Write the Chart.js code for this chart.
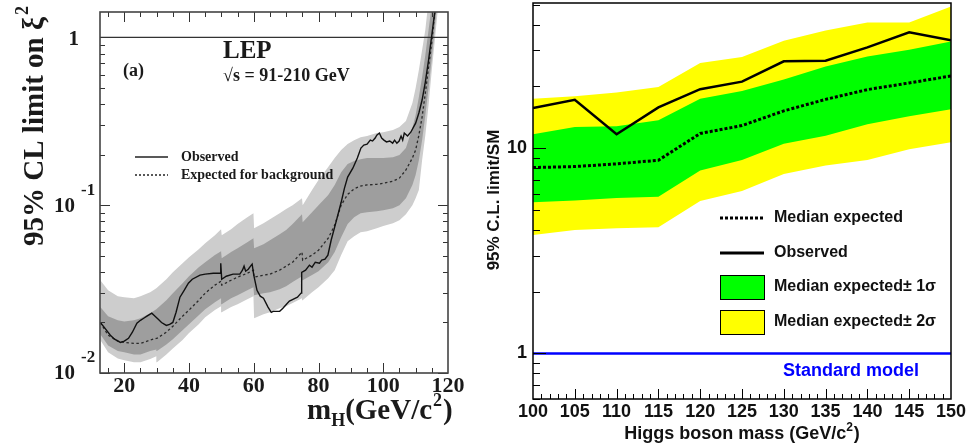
<!DOCTYPE html>
<html>
<head>
<meta charset="utf-8">
<script src="https://cdn.jsdelivr.net/npm/chart.js@4.4.1/dist/chart.umd.min.js"></script>
<style>
  body { margin: 0; background: #fff; }
  #wrap { position: relative; width: 969px; height: 446px; }
  canvas { position: absolute; top: 0; }
  #lepChart { left: 0; }
  #higgsChart { left: 480px; }
</style>
</head>
<body>
<div id="wrap">
  <canvas id="lepChart" width="480" height="446"></canvas>
  <canvas id="higgsChart" width="489" height="446"></canvas>
</div>
<script>
// ---------- panel (a): LEP 95% CL limit on xi^2 ----------
const lepGridMass = [12.6, 15, 18, 20, 23, 25, 28, 29.9, 30.1,
  33, 35, 38, 40, 43, 45, 48, 49.9, 50.1,
  53, 55, 58, 59.9, 60.1, 63, 65, 68, 70,
  72, 74.9, 75.1, 78, 80, 83, 85, 87, 89,
  91, 93, 95, 98, 100, 103, 105, 107, 109,
  110, 111, 112, 113, 114, 115, 116, 117, 118];

const lepExpected = [0.0200, 0.0168, 0.0155, 0.0152, 0.0150, 0.0150, 0.0157, 0.0161, 0.0161,
  0.0175, 0.0190, 0.0218, 0.0237, 0.0271, 0.0299, 0.0334, 0.0352, 0.0334,
  0.0357, 0.0372, 0.0393, 0.0410, 0.0372, 0.0383, 0.0388, 0.0410, 0.0433,
  0.0457, 0.0525, 0.0470, 0.0504, 0.0539, 0.0636, 0.0760, 0.100, 0.116,
  0.125, 0.130, 0.132, 0.133, 0.135, 0.139, 0.145, 0.162, 0.191,
  0.213, 0.261, 0.335, 0.466, 0.665, 0.937, 1.46, 2.26, 3.55];

const lepOneSigmaUp = [0.0247, 0.0218, 0.0206, 0.0203, 0.0206, 0.0212, 0.0227, 0.0240, 0.0240,
  0.0271, 0.0299, 0.0343, 0.0377, 0.0427, 0.0457, 0.0504, 0.0532, 0.0483,
  0.0525, 0.0554, 0.0602, 0.0636, 0.0554, 0.0585, 0.0618, 0.0671, 0.0710,
  0.0771, 0.0884, 0.0792, 0.0908, 0.100, 0.115, 0.132, 0.157, 0.176,
  0.183, 0.188, 0.191, 0.191, 0.191, 0.193, 0.199, 0.219, 0.288,
  0.344, 0.441, 0.580, 0.784, 1.11, 1.56, 2.35, 3.55, 5.36];

const lepOneSigmaDown = [0.0170, 0.0146, 0.0135, 0.0133, 0.0129, 0.0129, 0.0135, 0.0138, 0.0135,
  0.0148, 0.0159, 0.0180, 0.0195, 0.0221, 0.0240, 0.0264, 0.0279, 0.0257,
  0.0279, 0.0291, 0.0311, 0.0324, 0.0291, 0.0299, 0.0303, 0.0316, 0.0329,
  0.0348, 0.0377, 0.0357, 0.0383, 0.0404, 0.0457, 0.0525, 0.0644, 0.0771,
  0.0848, 0.0896, 0.0908, 0.0921, 0.0934, 0.0960, 0.100, 0.110, 0.132,
  0.151, 0.185, 0.244, 0.344, 0.499, 0.753, 1.18, 1.86, 2.89];

const lepTwoSigmaUp = [0.0357, 0.0311, 0.0287, 0.0283, 0.0279, 0.0287, 0.0303, 0.0320, 0.0320,
  0.0362, 0.0398, 0.0451, 0.0490, 0.0547, 0.0593, 0.0662, 0.0719, 0.0662,
  0.0719, 0.0771, 0.0848, 0.0896, 0.0729, 0.0781, 0.0824, 0.0896, 0.0947,
  0.100, 0.110, 0.100, 0.123, 0.141, 0.169, 0.191, 0.213, 0.231,
  0.244, 0.254, 0.258, 0.269, 0.272, 0.280, 0.292, 0.317, 0.406,
  0.499, 0.638, 0.840, 1.11, 1.67, 2.52, 3.80, 5.74, 8.67];

const lepTwoSigmaDown = [0.0157, 0.0133, 0.0122, 0.0119, 0.0116, 0.0116, 0.0121, 0.0126, 0.0116,
  0.0129, 0.0140, 0.0157, 0.0173, 0.0195, 0.0215, 0.0237, 0.0250, 0.0230,
  0.0247, 0.0257, 0.0275, 0.0287, 0.0212, 0.0224, 0.0230, 0.0243, 0.0250,
  0.0261, 0.0279, 0.0271, 0.0303, 0.0324, 0.0367, 0.0410, 0.0504, 0.0610,
  0.0653, 0.0690, 0.0700, 0.0729, 0.0750, 0.0781, 0.0813, 0.0884, 0.100,
  0.110, 0.123, 0.185, 0.261, 0.395, 0.638, 0.99, 1.56, 2.35];

const lepObsMass = [12.6, 14, 15.7, 17, 18.8, 20, 21.3, 22.5, 23.9, 25,
  26, 27, 28, 28.5, 29.5, 30.5, 31.5, 33, 34, 35,
  36, 37.2, 38.5, 39.8, 41, 43.4, 45, 47.5, 49.6, 49.8,
  50.1, 51.5, 53.6, 55.7, 56.5, 57, 57.5, 58.3, 59, 59.5,
  60, 61, 62, 63, 64.4, 65.4, 66, 68, 69, 70.1,
  71, 72.1, 73.5, 74.6, 74.8, 76, 77.2, 78, 79, 80.3,
  81, 82, 82.9, 83.9, 85.4, 87, 88, 89, 90.6, 92,
  93.1, 94, 95, 96, 96.7, 97.5, 98, 98.8, 99.5, 100.2,
  101, 102, 102.9, 103.5, 104.2, 104.9, 105.5, 106, 106.5, 107.5,
  108.5, 110, 111, 112, 113, 114, 115, 116, 117];

const lepObserved = [0.0200, 0.0185, 0.0168, 0.0159, 0.0152, 0.0155, 0.0161, 0.0175, 0.0198, 0.0206,
  0.0212, 0.0218, 0.0224, 0.0227, 0.0218, 0.0209, 0.0200, 0.0192, 0.0195, 0.0200,
  0.0230, 0.0283, 0.0311, 0.0343, 0.0362, 0.0383, 0.0388, 0.0393, 0.0393, 0.0451,
  0.0362, 0.0377, 0.0388, 0.0388, 0.0410, 0.0433, 0.0404, 0.0415, 0.0433, 0.0445,
  0.0383, 0.0311, 0.0287, 0.0279, 0.0247, 0.0230, 0.0233, 0.0233, 0.0243, 0.0257,
  0.0268, 0.0275, 0.0283, 0.0299, 0.0398, 0.0410, 0.0439, 0.0427, 0.0457, 0.0451,
  0.0470, 0.0476, 0.0504, 0.0618, 0.0792, 0.104, 0.126, 0.147, 0.166, 0.191,
  0.219, 0.228, 0.231, 0.244, 0.241, 0.251, 0.261, 0.269, 0.251, 0.244,
  0.238, 0.241, 0.234, 0.244, 0.234, 0.241, 0.258, 0.244, 0.269, 0.258,
  0.272, 0.308, 0.354, 0.423, 0.541, 0.732, 1.03, 1.46, 2.14];

const lepMassLabels = [20, 40, 60, 80, 100, 120];
const lepLimitLabels = [0.01, 0.1, 1];
const lepUnitLimit = 1;

// ---------- right panel: limit / SM vs Higgs mass ----------
const higgsMass = [100, 105, 110, 115, 120, 125, 130, 135, 140, 145, 150];
const higgsObserved = [15.7, 17.2, 11.7, 15.8, 19.4, 21.1, 26.5, 26.7, 31.0, 36.7, 33.6];
const higgsExpected = [8.05, 8.14, 8.39, 8.74, 11.8, 12.9, 15.2, 17.3, 19.3, 20.8, 22.5];
const higgsOneSigmaUp = [11.7, 12.7, 12.8, 13.7, 17.4, 19.0, 21.6, 25.0, 28.0, 30.2, 33.1];
const higgsOneSigmaDown = [5.45, 5.56, 5.72, 5.81, 7.78, 8.77, 10.5, 11.5, 13.1, 14.3, 15.5];
const higgsTwoSigmaUp = [17.4, 17.9, 18.7, 19.9, 26.0, 27.8, 33.4, 37.5, 41.0, 41.0, 49.1];
const higgsTwoSigmaDown = [3.78, 4.00, 4.07, 4.12, 5.53, 6.19, 7.49, 8.23, 8.77, 9.89, 10.7];
const higgsMassLabels = [100, 105, 110, 115, 120, 125, 130, 135, 140, 145, 150];
const higgsLimitLabels = [1, 10];
const standardModel = 1;

const SERIF = "'Liberation Serif', 'Times New Roman', serif";
const SANS = "'Liberation Sans', Arial, Helvetica, sans-serif";

function pts(xs, ys) {
  return xs.map((x, i) => ({ x: x, y: ys[i] }));
}

function band(xs, ys, color, fill, order) {
  return {
    data: pts(xs, ys),
    borderColor: 'rgba(0,0,0,0)',
    borderWidth: 0,
    backgroundColor: color,
    fill: fill,
    pointRadius: 0,
    order: order
  };
}

function line(data, color, width, dash, order) {
  return {
    data: data,
    borderColor: color,
    borderWidth: width,
    borderDash: dash,
    fill: false,
    pointRadius: 0,
    tension: 0,
    order: order
  };
}

const commonOptions = {
  responsive: false,
  animation: false,
  devicePixelRatio: 1,
  events: [],
  plugins: { legend: { display: false }, tooltip: { enabled: false } }
};

// frame, inward ticks, labels and annotations of panel (a)
const lepDecor = {
  id: 'lepDecor',
  afterDraw(chart) {
    const { ctx, chartArea: a, scales: { x, y } } = chart;
    ctx.save();
    ctx.strokeStyle = '#333';
    ctx.lineWidth = 1;
    ctx.beginPath();
    for (let m = 15; m < 120; m += 5) {
      const px = Math.round(x.getPixelForValue(m)) + 0.5;
      const len = m % 20 === 0 ? 10 : 5;
      ctx.moveTo(px, a.bottom); ctx.lineTo(px, a.bottom - len);
      ctx.moveTo(px, a.top); ctx.lineTo(px, a.top + len);
    }
    lepLimitLabels.forEach(dec => {
      for (let k = 1; k <= 9; k++) {
        const v = k * dec;
        if (v > y.max) break;
        const py = Math.round(y.getPixelForValue(v)) + 0.5;
        const len = k === 1 ? 10 : 5;
        ctx.moveTo(a.left, py); ctx.lineTo(a.left + len, py);
        ctx.moveTo(a.right, py); ctx.lineTo(a.right - len, py);
      }
    });
    ctx.stroke();
    ctx.lineWidth = 1.6;
    ctx.strokeStyle = '#444';
    ctx.strokeRect(a.left, a.top, a.right - a.left, a.bottom - a.top);

    ctx.fillStyle = '#1a1a1a';
    // x tick labels
    ctx.font = 'bold 22px ' + SERIF;
    ctx.textAlign = 'center';
    ctx.textBaseline = 'middle';
    lepMassLabels.forEach(m => ctx.fillText(String(m), x.getPixelForValue(m), a.bottom + 13));

    // y tick labels, ROOT style 10^n
    lepLimitLabels.forEach(v => {
      const py = y.getPixelForValue(v);
      const exp = Math.round(Math.log10(v));
      ctx.textAlign = 'right';
      ctx.font = 'bold 21px ' + SERIF;
      if (exp === 0) {
        ctx.fillText('1', 79, py + 2);
      } else {
        ctx.fillText('10', 75, py + 1);
        ctx.textAlign = 'left';
        ctx.font = 'bold 17px ' + SERIF;
        ctx.fillText(String(exp), 81, py - 15);
      }
    });

    // x axis title m_H(GeV/c^2)
    ctx.textAlign = 'left';
    ctx.textBaseline = 'alphabetic';
    let tx = 307;
    const base = 419;
    const big = 'bold 29px ' + SERIF, small = 'bold 18px ' + SERIF;
    ctx.font = big; ctx.fillText('m', tx, base); tx += ctx.measureText('m').width;
    ctx.font = small; ctx.fillText('H', tx, base + 7); tx += ctx.measureText('H').width;
    ctx.font = big; ctx.fillText('(GeV/c', tx, base); tx += ctx.measureText('(GeV/c').width;
    ctx.font = small; ctx.fillText('2', tx + 1, base - 13); tx += ctx.measureText('2').width + 2;
    ctx.font = big; ctx.fillText(')', tx, base);

    // y axis title, rotated
    ctx.save();
    ctx.translate(36, 126);
    ctx.rotate(-Math.PI / 2);
    ctx.font = big;
    const main = '95% CL limit on \u03be';
    const wMain = ctx.measureText(main).width;
    ctx.font = small;
    const wSup = ctx.measureText('2').width;
    const start = -(wMain + wSup + 2) / 2;
    ctx.font = big;
    ctx.textBaseline = 'middle';
    ctx.fillText(main, start, 0);
    ctx.font = small;
    ctx.fillText('2', start + wMain + 2, -13);
    ctx.restore();

    // annotations
    ctx.textBaseline = 'middle';
    ctx.font = 'bold 25px ' + SERIF;
    ctx.fillText('LEP', 223, 52);
    ctx.font = 'bold 18px ' + SERIF;
    ctx.fillText('(a)', 123, 71);
    ctx.fillText('\u221as = 91-210 GeV', 223, 76);

    // legend
    ctx.strokeStyle = '#222';
    ctx.lineWidth = 1.3;
    ctx.beginPath(); ctx.moveTo(135, 157); ctx.lineTo(168, 157); ctx.stroke();
    ctx.setLineDash([2, 2]);
    ctx.beginPath(); ctx.moveTo(135, 175); ctx.lineTo(168, 175); ctx.stroke();
    ctx.setLineDash([]);
    ctx.font = 'bold 14px ' + SERIF;
    ctx.fillText('Observed', 181, 157);
    ctx.fillText('Expected for background', 181, 175);
    ctx.restore();
  }
};

new Chart(document.getElementById('lepChart'), {
  type: 'line',
  data: {
    datasets: [
      band(lepGridMass, lepTwoSigmaUp, '#cdcdcd', '+1', 5),
      band(lepGridMass, lepTwoSigmaDown, '#cdcdcd', false, 5),
      band(lepGridMass, lepOneSigmaUp, '#9e9e9e', '+1', 4),
      band(lepGridMass, lepOneSigmaDown, '#9e9e9e', false, 4),
      line([{ x: 12.5, y: lepUnitLimit }, { x: 120, y: lepUnitLimit }], '#333', 1.2, [], 3),
      line(pts(lepGridMass, lepExpected), '#2a2a2a', 1.3, [2.5, 2.5], 2),
      line(pts(lepObsMass, lepObserved), '#111', 1.4, [], 1)
    ]
  },
  options: Object.assign({}, commonOptions, {
    layout: { padding: { left: 100, right: 32, top: 12, bottom: 73 } },
    scales: {
      x: { type: 'linear', min: 12.5, max: 120, display: false },
      y: { type: 'logarithmic', min: 0.01, max: 1.415, display: false }
    }
  }),
  plugins: [lepDecor]
});

// frame, ticks, labels and legend of the right panel
const higgsDecor = {
  id: 'higgsDecor',
  afterDraw(chart) {
    const { ctx, chartArea: a, scales: { x, y } } = chart;
    ctx.save();
    ctx.strokeStyle = '#000';
    ctx.lineWidth = 1;
    ctx.beginPath();
    for (let m = 101; m < 150; m++) {
      const px = Math.round(x.getPixelForValue(m)) + 0.5;
      const len = m % 5 === 0 ? 10 : 5;
      ctx.moveTo(px, a.bottom); ctx.lineTo(px, a.bottom - len);
    }
    [0.1, 1, 10].forEach(dec => {
      for (let k = 1; k <= 9; k++) {
        const v = k * dec;
        if (v < y.min || v > y.max) continue;
        const py = Math.round(y.getPixelForValue(v)) + 0.5;
        const len = k === 1 ? 13 : 7;
        ctx.moveTo(a.left, py); ctx.lineTo(a.left + len, py);
      }
    });
    ctx.stroke();
    ctx.lineWidth = 1.5;
    ctx.strokeRect(a.left, a.top, a.right - a.left, a.bottom - a.top);

    ctx.fillStyle = '#111';
    ctx.font = 'bold 18px ' + SANS;
    ctx.textAlign = 'center';
    ctx.textBaseline = 'middle';
    higgsMassLabels.forEach(m => ctx.fillText(String(m), x.getPixelForValue(m), 412));
    ctx.textAlign = 'right';
    higgsLimitLabels.forEach(v => ctx.fillText(String(v), 47, y.getPixelForValue(v)));

    // x axis title with superscript
    const title = 'Higgs boson mass (GeV/c';
    ctx.font = 'bold 18px ' + SANS;
    const wT = ctx.measureText(title).width;
    const wClose = ctx.measureText(')').width;
    ctx.font = 'bold 12px ' + SANS;
    const wS = ctx.measureText('2').width;
    let tx = 262 - (wT + wS + wClose + 1) / 2;
    ctx.textAlign = 'left';
    ctx.textBaseline = 'alphabetic';
    ctx.font = 'bold 18px ' + SANS;
    ctx.fillText(title, tx, 439);
    tx += wT;
    ctx.font = 'bold 12px ' + SANS;
    ctx.fillText('2', tx, 431);
    tx += wS + 1;
    ctx.font = 'bold 18px ' + SANS;
    ctx.fillText(')', tx, 439);

    // y axis title
    ctx.save();
    ctx.translate(14, 200);
    ctx.rotate(-Math.PI / 2);
    ctx.textAlign = 'center';
    ctx.textBaseline = 'middle';
    ctx.font = 'bold 17px ' + SANS;
    ctx.fillText('95% C.L. limit/SM', 0, 0);
    ctx.restore();

    // legend
    ctx.textAlign = 'left';
    ctx.textBaseline = 'middle';
    ctx.lineWidth = 3;
    ctx.strokeStyle = '#000';
    ctx.setLineDash([3, 2]);
    ctx.beginPath(); ctx.moveTo(240, 218); ctx.lineTo(283, 218); ctx.stroke();
    ctx.setLineDash([]);
    ctx.beginPath(); ctx.moveTo(240, 253); ctx.lineTo(284, 253); ctx.stroke();
    ctx.lineWidth = 1;
    ctx.fillStyle = '#00ff00';
    ctx.fillRect(240, 275, 44, 24);
    ctx.strokeRect(240.5, 275.5, 44, 24);
    ctx.fillStyle = '#ffff00';
    ctx.fillRect(240, 310, 44, 24);
    ctx.strokeRect(240.5, 310.5, 44, 24);
    ctx.fillStyle = '#111';
    ctx.font = 'bold 16px ' + SANS;
    ctx.fillText('Median expected', 294, 218);
    ctx.fillText('Observed', 294, 253);
    ctx.fillText('Median expected\u00b1 1\u03c3', 294, 287);
    ctx.fillText('Median expected\u00b1 2\u03c3', 294, 322);

    ctx.fillStyle = '#0000ff';
    ctx.textAlign = 'center';
    ctx.font = 'bold 18px ' + SANS;
    ctx.fillText('Standard model', 371, 371);
    ctx.restore();
  }
};

new Chart(document.getElementById('higgsChart'), {
  type: 'line',
  data: {
    datasets: [
      band(higgsMass, higgsTwoSigmaUp, '#ffff00', '+1', 5),
      band(higgsMass, higgsTwoSigmaDown, '#ffff00', false, 5),
      band(higgsMass, higgsOneSigmaUp, '#00ff00', '+1', 4),
      band(higgsMass, higgsOneSigmaDown, '#00ff00', false, 4),
      line([{ x: 100, y: standardModel }, { x: 150, y: standardModel }], '#0000ff', 2.5, [], 3),
      line(pts(higgsMass, higgsExpected), '#000', 3, [3, 2], 2),
      line(pts(higgsMass, higgsObserved), '#000', 2.5, [], 1)
    ]
  },
  options: Object.assign({}, commonOptions, {
    layout: { padding: { left: 53, right: 18, top: 3, bottom: 47 } },
    scales: {
      x: { type: 'linear', min: 100, max: 150, display: false },
      y: { type: 'logarithmic', min: 0.6, max: 51, display: false }
    }
  }),
  plugins: [higgsDecor]
});
</script>
</body>
</html>
